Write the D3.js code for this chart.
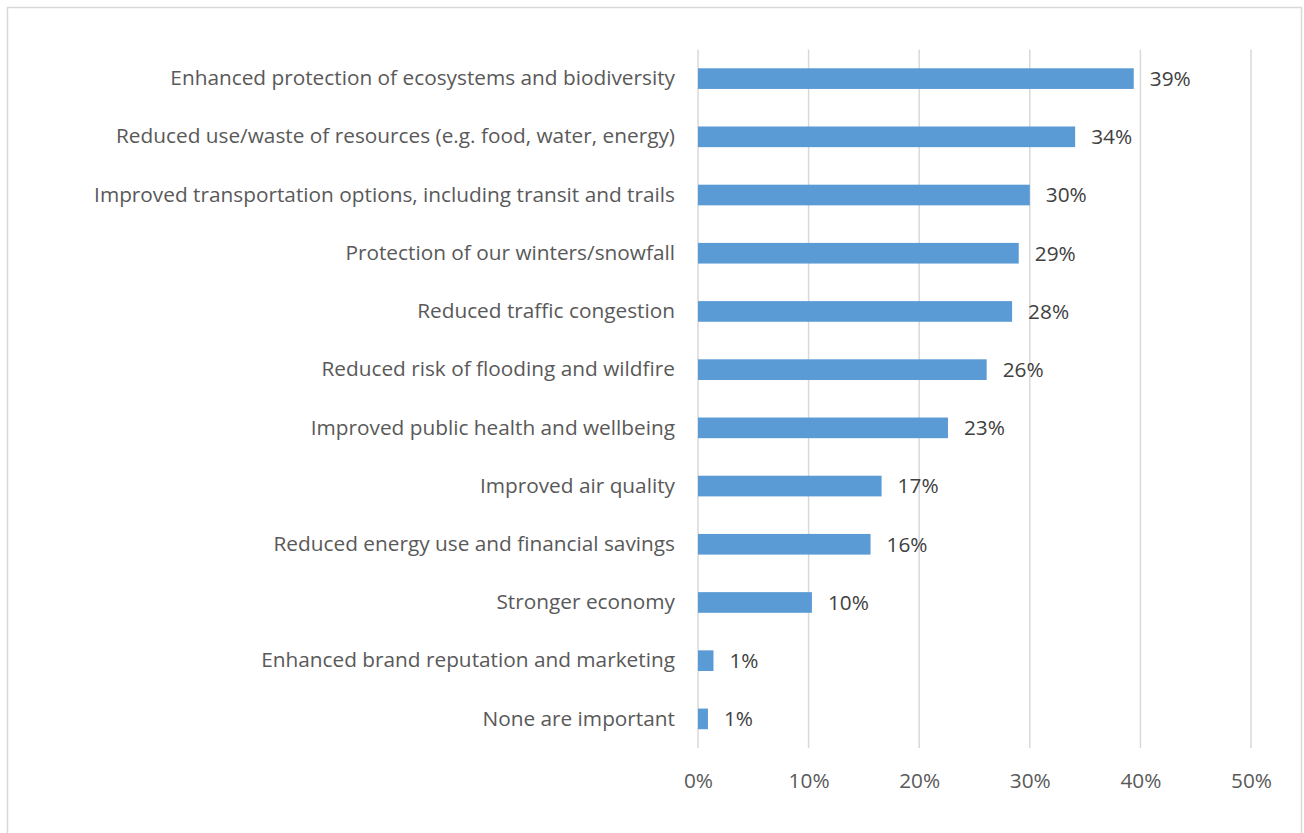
<!DOCTYPE html>
<html>
<head>
<meta charset="utf-8">
<script src="https://cdn.jsdelivr.net/npm/d3@7"></script>
<style>
  html, body { margin: 0; padding: 0; background: #fff; }
  svg { display: block; }
  text { font-family: "Open Sans", Lato, "Liberation Sans", sans-serif; }
</style>
</head>
<body>
<svg id="chart" width="1304" height="833"></svg>
<script>
// Benefits considered important (share of respondents)
const categories = [
  "Enhanced protection of ecosystems and biodiversity",
  "Reduced use/waste of resources (e.g. food, water, energy)",
  "Improved transportation options, including transit and trails",
  "Protection of our winters/snowfall",
  "Reduced traffic congestion",
  "Reduced risk of flooding and wildfire",
  "Improved public health and wellbeing",
  "Improved air quality",
  "Reduced energy use and financial savings",
  "Stronger economy",
  "Enhanced brand reputation and marketing",
  "None are important"
];
const shares = [0.394, 0.341, 0.300, 0.290, 0.284, 0.261, 0.226, 0.166, 0.156, 0.103, 0.014, 0.009];
const tickValues = [0, 0.1, 0.2, 0.3, 0.4, 0.5];

const svg = d3.select("#chart");
const W = 1304, H = 833;
const margin = { top: 49.5, right: 53, bottom: 85, left: 698 };
const fontSize = 20.8;

// Outer chart frame
svg.append("rect")
  .attr("x", 7.5).attr("y", 7.5)
  .attr("width", W - 10).attr("height", H + 20)
  .attr("fill", "none")
  .attr("stroke", "#d9d9d9")
  .attr("stroke-width", 1.5);

const x = d3.scaleLinear()
  .domain([0, 0.5])
  .range([margin.left, W - margin.right]);

const y = d3.scaleBand()
  .domain(categories)
  .range([margin.top, H - margin.bottom])
  .paddingInner(0.645)
  .paddingOuter(0.3225);

// Vertical gridlines
svg.append("g")
  .selectAll("line")
  .data(tickValues)
  .join("line")
  .attr("x1", d => x(d)).attr("x2", d => x(d))
  .attr("y1", margin.top).attr("y2", H - margin.bottom)
  .attr("stroke", "#d9d9d9")
  .attr("stroke-width", 1.5);

// X axis tick labels
const xAxis = d3.axisBottom(x)
  .tickValues(tickValues)
  .tickFormat(d3.format(".0%"))
  .tickSize(0)
  .tickPadding(0);
const gx = svg.append("g")
  .attr("transform", `translate(0,${H - margin.bottom + 33})`)
  .call(xAxis);
gx.select(".domain").remove();
gx.selectAll("text")
  .attr("dy", "0.35em")
  .attr("font-size", fontSize)
  .attr("fill", "#595959");

// Category labels
const yAxis = d3.axisLeft(y).tickSize(0).tickPadding(23);
const gy = svg.append("g")
  .attr("transform", `translate(${margin.left},0)`)
  .call(yAxis);
gy.select(".domain").remove();
gy.selectAll("text")
  .attr("font-size", fontSize)
  .attr("fill", "#595959");

// Bars
svg.append("g")
  .selectAll("rect")
  .data(categories)
  .join("rect")
  .attr("x", x(0))
  .attr("y", d => y(d))
  .attr("width", (d, i) => x(shares[i]) - x(0))
  .attr("height", y.bandwidth())
  .attr("fill", "#5b9bd5");

// Value labels
svg.append("g")
  .selectAll("text")
  .data(categories)
  .join("text")
  .attr("x", (d, i) => x(shares[i]) + 16)
  .attr("y", d => y(d) + y.bandwidth() / 2)
  .attr("dy", "0.35em")
  .attr("font-size", fontSize)
  .attr("fill", "#404040")
  .text((d, i) => d3.format(".0%")(shares[i]));
</script>
</body>
</html>
